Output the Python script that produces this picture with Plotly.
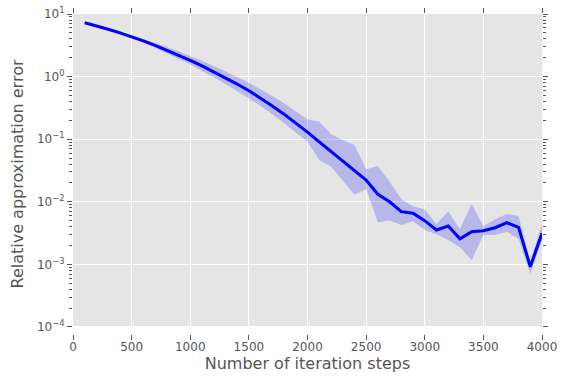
import plotly.graph_objects as go

steps = [100, 200, 300, 400, 500, 600, 700, 800, 900, 1000,
         1100, 1200, 1300, 1400, 1500, 1600, 1700, 1800, 1900, 2000,
         2100, 2200, 2300, 2400, 2500, 2600, 2700, 2800, 2900, 3000,
         3100, 3200, 3300, 3400, 3500, 3600, 3700, 3800, 3900, 4000]

mean_err = [7.26, 6.47, 5.70, 4.99, 4.33, 3.72, 3.16, 2.65, 2.21, 1.82,
            1.486, 1.20, 0.959, 0.760, 0.596, 0.454, 0.340, 0.251, 0.182, 0.130,
            0.0905, 0.0635, 0.0447, 0.0316, 0.0223, 0.0132, 0.0100, 0.00695, 0.00655, 0.00499,
            0.00355, 0.0041, 0.00257, 0.00333, 0.00344, 0.00385, 0.00463, 0.00391, 0.00092, 0.00313]

upper_err = [7.33, 6.59, 5.87, 5.21, 4.58, 4.00, 3.46, 2.97, 2.53, 2.14,
             1.79, 1.48, 1.216, 0.989, 0.794, 0.627, 0.490, 0.374, 0.275, 0.208,
             0.190, 0.121, 0.097, 0.0807, 0.0331, 0.0373, 0.0209, 0.011, 0.0085, 0.0075,
             0.00437, 0.00708, 0.00363, 0.00923, 0.00407, 0.00525, 0.00638, 0.00593, 0.00112, 0.00437]

lower_err = [7.19, 6.35, 5.53, 4.79, 4.09, 3.46, 2.88, 2.38, 1.93, 1.556,
             1.239, 0.975, 0.762, 0.590, 0.452, 0.339, 0.251, 0.179, 0.127, 0.0912,
             0.0462, 0.0367, 0.0218, 0.0129, 0.0158, 0.00473, 0.00501, 0.00427, 0.0049, 0.00355,
             0.00304, 0.00245, 0.00187, 0.00117, 0.00295, 0.00295, 0.00331, 0.00257, 0.00071, 0.0024]

x_ticks = [0, 500, 1000, 1500, 2000, 2500, 3000, 3500, 4000]
y_ticks = [1e-4, 1e-3, 1e-2, 1e-1, 1e0, 1e1]
y_tick_text = ["10<sup>−4</sup>", "10<sup>−3</sup>", "10<sup>−2</sup>",
               "10<sup>−1</sup>", "10<sup>0</sup>", "10<sup>1</sup>"]
y_minor = [m * 10.0 ** e for e in range(-4, 1) for m in range(2, 10)]

TXT = "#555555"
FONT = "DejaVu Sans"

fig = go.Figure()
fig.add_trace(go.Scatter(x=steps, y=lower_err, mode="lines",
                         line=dict(width=0, color="rgba(0,0,255,0)"),
                         hoverinfo="skip", showlegend=False))
fig.add_trace(go.Scatter(x=steps, y=upper_err, mode="lines", fill="tonexty",
                         fillcolor="rgba(0,0,255,0.2)",
                         line=dict(width=0, color="rgba(0,0,255,0)"),
                         hoverinfo="skip", showlegend=False))
fig.add_trace(go.Scatter(x=steps, y=mean_err, mode="lines",
                         line=dict(width=3, color="#0000ff"), showlegend=False))

# gray axes background (the tick row of the x axis sits a few px below it)
fig.add_shape(type="rect", xref="x", yref="y", x0=0, x1=4000, y0=y_ticks[0], y1=y_ticks[-1],
              fillcolor="#e5e5e5", line=dict(width=0), layer="below")

fig.update_layout(
    width=561, height=376,
    margin=dict(l=73, r=19, t=14, b=42, autoexpand=False),
    paper_bgcolor="white", plot_bgcolor="white",
    font=dict(family=FONT, color=TXT, size=12),
    xaxis=dict(range=[0, 4000], tickvals=x_ticks, ticks="outside", ticklen=5,
               tickcolor=TXT, tickwidth=1, mirror="ticks", showline=False,
               showgrid=True, gridcolor="white", gridwidth=1, zeroline=False,
               automargin=False, ticklabelstandoff=-3,
               tickfont=dict(size=12, color=TXT),
               title=dict(text="Number of iteration steps", font=dict(size=16, color=TXT),
                          standoff=4)),
    yaxis=dict(type="log", range=[-4.112, 1], tickmode="array", tickvals=y_ticks,
               ticktext=y_tick_text, ticks="outside", ticklen=5, tickcolor=TXT,
               tickwidth=1, mirror="ticks", showline=False, showgrid=True,
               gridcolor="white", gridwidth=1, zeroline=False,
               automargin=False,
               tickfont=dict(size=12, color=TXT),
               minor=dict(tickmode="array", tickvals=y_minor, ticks="outside",
                          ticklen=3, tickcolor=TXT, tickwidth=1, showgrid=False),
               title=dict(text="Relative approximation error", font=dict(size=16, color=TXT),
                          standoff=9)),
)

fig.write_html("out.html")
